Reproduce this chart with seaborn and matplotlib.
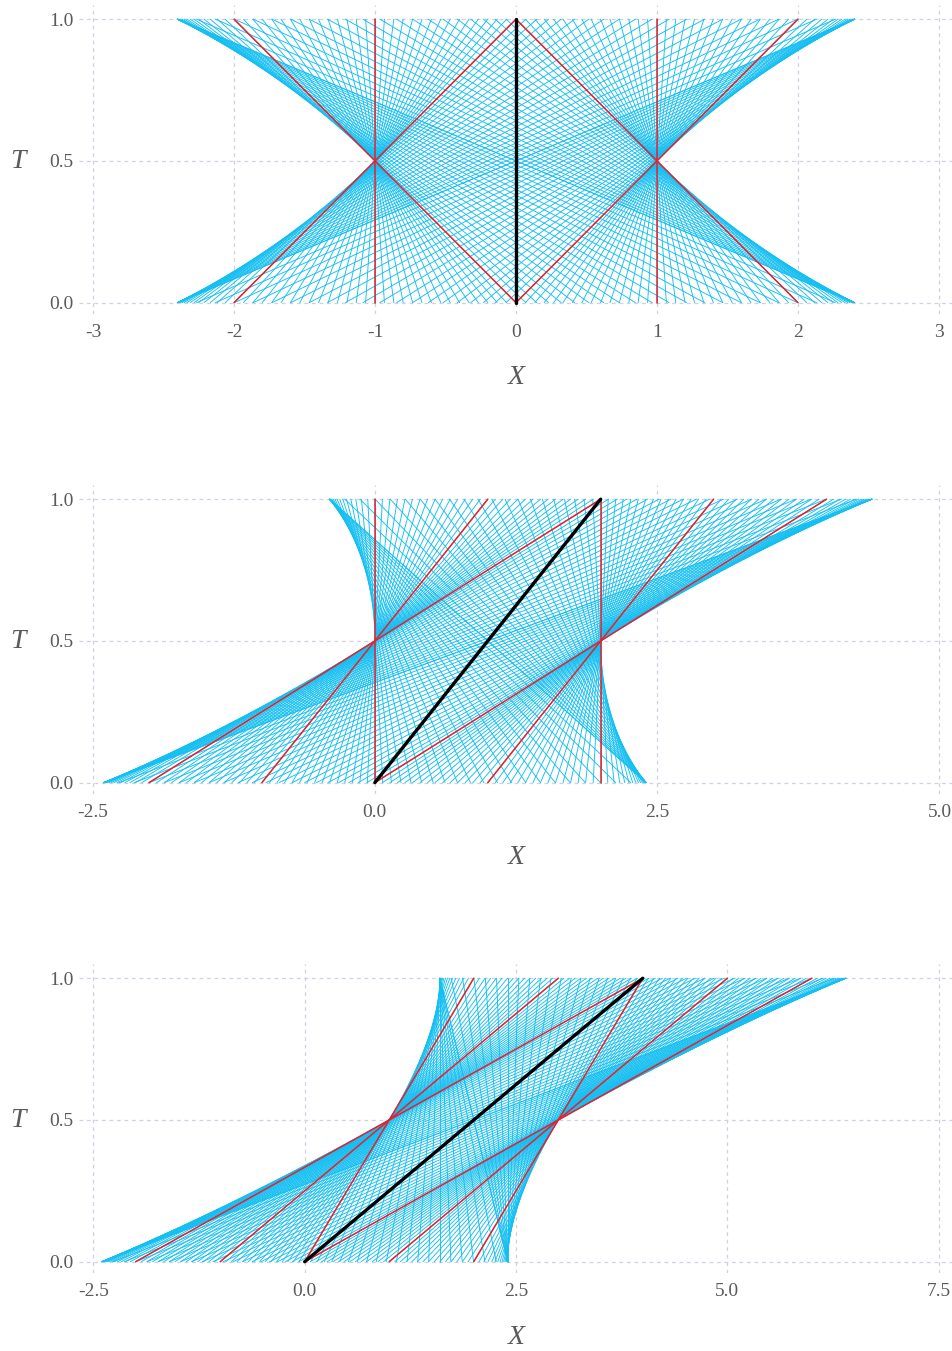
import numpy as np
import pandas as pd
import matplotlib
matplotlib.use("Agg")
import matplotlib.pyplot as plt
import seaborn as sns

# construction in the rest frame, T runs from 0 to 1
centres = [-1.0, 1.0]        # X of the two focal points at T = 0.5
t_pivot = 0.5
v_edge = 2.0                 # speed of the red diagonals / edge of the straight pencil
v_far = 4.8                  # steepest line: corner (-2.4, 0) to corner (2.4, 1)
n_inner = 31                 # lines of the straight pencil through each focal point
n_outer = 21                 # lines on each curved branch
red_speeds = [-2.0, 0.0, 2.0]
black_x = [0.0, 0.0]
black_t = [0.0, 1.0]

# one panel per frame speed (Galilean shear X -> X + u T)
frame_speeds = [0, 2, 4]
x_limits = [(-3.1, 3.1), (-2.62, 5.12), (-2.67, 7.67)]
x_ticks = [[-3, -2, -1, 0, 1, 2, 3], [-2.5, 0.0, 2.5, 5.0], [-2.5, 0.0, 2.5, 5.0, 7.5]]
x_ticklabels = [["-3", "-2", "-1", "0", "1", "2", "3"],
                ["-2.5", "0.0", "2.5", "5.0"],
                ["-2.5", "0.0", "2.5", "5.0", "7.5"]]
t_ticks = [0.0, 0.5, 1.0]
t_ticklabels = ["0.0", "0.5", "1.0"]

BLUE = "#14bff2"
RED = "#e8202a"
GRID = "#cfd0e2"
TXT = "#5a5a5a"


def fan_lines():
    # each line is X = c + v (T - 0.5); beyond v_edge the crossing point c drifts
    # towards the middle so the outer lines wrap a curved envelope
    d = v_far - v_edge
    alpha, beta = np.linalg.solve([[d ** 2, d ** 3], [2 * d, 3 * d ** 2]], [1.0, 0.5])
    out = []
    for c0 in centres:
        s = -np.sign(c0)
        for v in np.linspace(-v_edge, v_edge, n_inner):
            out.append((c0, v))
        for w in np.linspace(0, d, n_outer + 1)[1:]:
            c = c0 + s * (alpha * w ** 2 + beta * w ** 3)
            out.append((c, v_edge + w))
            out.append((c, -v_edge - w))
    return out


def to_frame(lines, u):
    rows = []
    for i, (c, v) in enumerate(lines):
        for t in (0.0, 1.0):
            rows.append({"line": i, "T": t, "X": c + v * (t - t_pivot) + u * t})
    return pd.DataFrame(rows)


blue = fan_lines()
red = [(c0, v) for c0 in centres for v in red_speeds]

sns.set_theme(style="white")
plt.rcParams["font.family"] = ["Liberation Serif", "DejaVu Serif"]

fig = plt.figure(figsize=(9.53, 13.51), dpi=100)
bottoms = [0.7676, 0.4123, 0.0577]

for p, u in enumerate(frame_speeds):
    ax = fig.add_axes([0.0829, bottoms[p], 0.9171, 0.2287])
    ax.set_axisbelow(True)
    ax.grid(True, linestyle=(0, (3, 3)), color=GRID, lw=0.9)

    sns.lineplot(data=to_frame(blue, u), x="X", y="T", units="line", estimator=None,
                 sort=False, color=BLUE, lw=0.65, legend=False, ax=ax)
    sns.lineplot(data=to_frame(red, u), x="X", y="T", units="line", estimator=None,
                 sort=False, color=RED, lw=1.1, legend=False, ax=ax)
    bdf = pd.DataFrame({"X": [x + u * t for x, t in zip(black_x, black_t)], "T": black_t})
    sns.lineplot(data=bdf, x="X", y="T", estimator=None, sort=False,
                 color="black", lw=2.4, ax=ax)

    ax.set_xlim(*x_limits[p])
    ax.set_ylim(-0.04, 1.05)
    ax.set_xticks(x_ticks[p])
    ax.set_xticklabels(x_ticklabels[p])
    ax.set_yticks(t_ticks)
    ax.set_yticklabels(t_ticklabels)
    ax.tick_params(length=0, labelsize=14, labelcolor=TXT)
    ax.tick_params(axis="x", pad=7)
    ax.tick_params(axis="y", pad=4)
    for sp in ax.spines.values():
        sp.set_visible(False)

    ax.set_xlabel("X", fontsize=20, style="italic", color=TXT)
    ax.set_ylabel("T", fontsize=20, style="italic", color=TXT, rotation=0)
    ax.xaxis.set_label_coords(0.501, -0.207)
    ax.yaxis.set_label_coords(-0.0698, 0.495)
    ax.xaxis.label.set_verticalalignment("center")
    ax.yaxis.label.set_verticalalignment("center")

fig.savefig("out.png", dpi=100)
